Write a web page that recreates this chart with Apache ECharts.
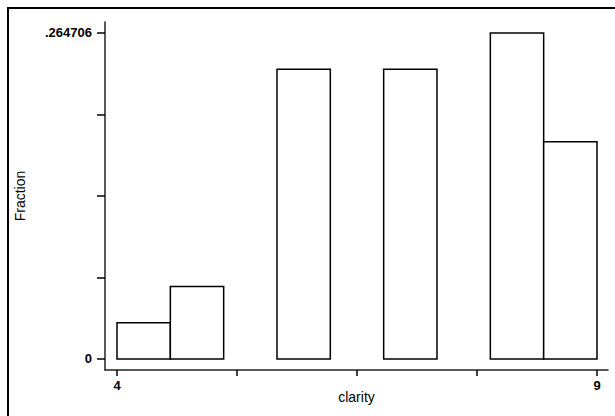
<!DOCTYPE html>
<html>
<head>
<meta charset="utf-8">
<script src="https://cdn.jsdelivr.net/npm/echarts@6/dist/echarts.min.js"></script>
<style>
  html, body { margin: 0; padding: 0; background: #fff; overflow: hidden; }
  #wrap { position: relative; width: 615px; height: 416px; overflow: hidden; }
  #chart { width: 615px; height: 416px; }
  #frame {
    position: absolute; left: 7px; top: 7px; width: 606px; height: 407px;
    border-left: 2px solid #000; border-top: 2px solid #000; pointer-events: none;
  }
</style>
</head>
<body>
<div id="wrap">
  <div id="chart"></div>
  <div id="frame"></div>
</div>
<script>
// histogram of clarity, 9 bins between 4 and 9
var binEdges = [4, 4.5556, 5.1111, 5.6667, 6.2222, 6.7778, 7.3333, 7.8889, 8.4444, 9];
var fractions = [0.029412, 0.058824, 0, 0.235294, 0, 0.235294, 0, 0.264706, 0.176471];
var xTicks = [4, 5.25, 6.5, 7.75, 9];
var xLabels = [4, 9];
var yTicks = [0, 0.066177, 0.132353, 0.19853, 0.264706];
var yLabels = [0, 0.264706];

(function() {
  var chart = echarts.init(document.getElementById('chart'), null, { renderer: 'svg' });
  var font = 'Liberation Sans, Arial, sans-serif';

  var data = [];
  for (var i = 0; i < fractions.length; i++) {
    if (fractions[i] > 0) data.push([binEdges[i], binEdges[i + 1], fractions[i]]);
  }

  chart.setOption({
    animation: false,
    backgroundColor: '#fff',
    grid: { left: 105, right: 7, top: 22, bottom: 46 },
    xAxis: {
      type: 'value',
      min: 3.875, max: 9.1146,
      name: 'clarity',
      nameLocation: 'middle',
      nameGap: 20,
      nameMoveOverlap: false,
      nameTextStyle: { color: '#000', fontFamily: font, fontSize: 14 },
      axisLine: { show: true, onZero: false, lineStyle: { color: '#222', width: 1.5 } },
      axisTick: { show: true, length: 6, customValues: xTicks, lineStyle: { color: '#000', width: 1.5 } },
      axisLabel: {
        customValues: xLabels, color: '#000', fontFamily: font, fontSize: 13, fontWeight: 'bold', margin: 9
      },
      splitLine: { show: false }
    },
    yAxis: {
      type: 'value',
      min: -0.008932, max: 0.273633,
      name: 'Fraction',
      nameLocation: 'middle',
      nameGap: 78,
      nameMoveOverlap: false,
      nameTextStyle: { color: '#000', fontFamily: font, fontSize: 14 },
      axisLine: { show: true, onZero: false, lineStyle: { color: '#222', width: 1.5 } },
      axisTick: { show: true, length: 8, customValues: yTicks, lineStyle: { color: '#000', width: 1.5 } },
      axisLabel: {
        customValues: yLabels, color: '#000', fontFamily: font, fontSize: 13, fontWeight: 'bold', margin: 13,
        formatter: function(v) { return v === 0 ? '0' : String(v).replace(/^0\./, '.'); }
      },
      splitLine: { show: false }
    },
    series: [{
      type: 'custom',
      data: data,
      encode: { x: [0, 1], y: 2 },
      renderItem: function(params, api) {
        var p0 = api.coord([api.value(0), api.value(2)]);
        var p1 = api.coord([api.value(1), 0]);
        return {
          type: 'rect',
          shape: { x: p0[0], y: p0[1], width: p1[0] - p0[0], height: p1[1] - p0[1] },
          style: { fill: '#fff', stroke: '#000', lineWidth: 1.5 }
        };
      }
    }]
  });
  window.addEventListener('resize', function() { chart.resize(); });
})();
</script>
</body>
</html>
